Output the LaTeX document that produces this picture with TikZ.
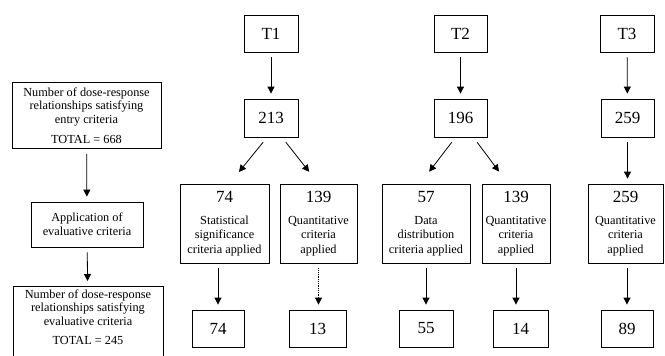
\documentclass[tikz,border=0pt]{standalone}
\usepackage{fontspec}
\setmainfont{Liberation Serif}
\usetikzlibrary{arrows.meta}

\begin{document}
\begin{tikzpicture}[x=1pt,y=-1pt,
    box/.style={draw,line width=0.8pt,inner sep=0pt,align=center,font=\fontsize{12.3}{13.8}\selectfont},
    sub/.style={box,font=\fontsize{12.3}{14.5}\selectfont,minimum height=79},
    big/.style={font=\fontsize{17}{20}\selectfont},
    arr/.style={-{Triangle[length=7pt,width=7pt]},line width=0.8pt,shorten <=5pt,shorten >=5pt},
    diag/.style={arr,shorten <=6pt,shorten >=15pt}]
\clip (0,0) rectangle (665,356);
% left column
\node[box,minimum width=149,minimum height=66] (entry) at (86.5,115.5) {Number of dose-response\\relationships satisfying\\entry criteria\\[6pt]TOTAL = 668};
\node[box,minimum width=112,minimum height=45] (eval) at (87,224.5) {Application of\\evaluative criteria};
\node[box,minimum width=150,inner ysep=3pt,anchor=north] (result) at (88,286) {Number of dose-response\\relationships satisfying\\evaluative criteria\\[5pt]TOTAL = 245\\[12pt]~};
\draw[arr] (entry) -- (eval);
\draw[arr] (eval) -- (result);
% T1
\node[box,big,minimum width=54,minimum height=37] (t1) at (271,33.5) {T1};
\node[box,big,minimum width=54,minimum height=38] (n213) at (271,118) {213};
\node[sub,minimum width=89] (s74) at (224.5,223.5) {{\fontsize{17}{20}\selectfont 74}\\[7pt]Statistical\\significance\\criteria applied};
\node[sub,minimum width=77] (s139) at (318.5,223.5) {{\fontsize{17}{20}\selectfont 139}\\[7pt]Quantitative\\criteria\\applied};
\node[box,big,minimum width=52,minimum height=37] (b74) at (218,328.5) {74};
\node[box,big,minimum width=57,minimum height=37] (b13) at (317.5,328.5) {13};
\draw[arr] (t1) -- (n213);
\draw[diag] ([xshift=-4pt]n213.south) -- ([xshift=5pt]s74.north);
\draw[diag] ([xshift=11pt]n213.south) -- (s139.north);
\draw[arr] (b74 |- s74.south) -- (b74.north);
\draw[arr,densely dotted] (s139.south) -- (s139.south |- b13.north);
% T2
\node[box,big,minimum width=53,minimum height=37] (t2) at (460.5,33.5) {T2};
\node[box,big,minimum width=53,minimum height=38] (n196) at (460.5,118) {196};
\node[sub,minimum width=88] (s57) at (426,223.5) {{\fontsize{17}{20}\selectfont 57}\\[7pt]Data\\distribution\\criteria applied};
\node[sub,minimum width=68] (s139b) at (516,223.5) {{\fontsize{17}{20}\selectfont 139}\\[7pt]Quantitative\\criteria\\applied};
\node[box,big,minimum width=54,minimum height=37] (b55) at (426,328.5) {55};
\node[box,big,minimum width=55,minimum height=37] (b14) at (520.5,328.5) {14};
\draw[arr] (t2) -- (n196);
\draw[diag] ([xshift=-5pt]n196.south) -- ([xshift=-6pt]s57.north);
\draw[diag] ([xshift=13pt]n196.south) -- ([xshift=-8pt]s139b.north);
\draw[arr] (s57) -- (b55);
\draw[arr] (s139b.south) -- (s139b.south |- b14.north);
% T3
\node[box,big,minimum width=54,minimum height=37] (t3) at (627,33.5) {T3};
\node[box,big,minimum width=53,minimum height=38] (n259) at (627.5,118) {259};
\node[sub,minimum width=75] (s259) at (625.5,223.5) {{\fontsize{17}{20}\selectfont 259}\\[7pt]Quantitative\\criteria\\applied};
\node[box,big,minimum width=52,minimum height=37] (b89) at (627,328.5) {89};
\draw[arr] (t3) -- (n259);
\draw[arr] (n259) -- (n259 |- s259.north);
\draw[arr] (b89 |- s259.south) -- (b89.north);
\end{tikzpicture}
\end{document}
